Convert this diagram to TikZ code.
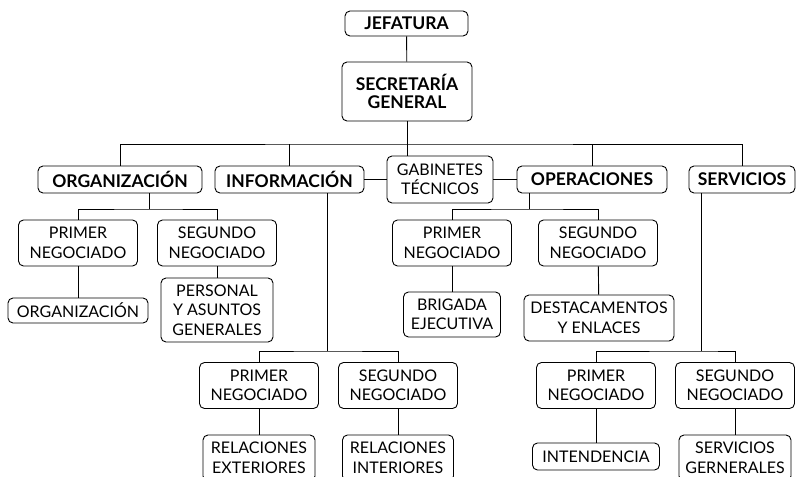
\documentclass[tikz,border=0pt]{standalone}
\usepackage{fontspec}
\setmainfont{Lato}
\begin{document}
\begin{tikzpicture}[x=1pt,y=-1pt,line width=0.9pt,
	box/.style={draw,rounded corners=5pt,align=center,inner sep=0pt,font=\fontsize{16}{19.5}\selectfont},
	head/.style={box,font=\fontsize{17.5}{18.5}\selectfont\bfseries},
	neg/.style={box,minimum width=119pt,minimum height=46pt}]
	\useasboundingbox (0,0) rectangle (796,477);
	% jefatura y secretaria
	\node[head,minimum width=123pt,minimum height=25pt] (jef) at (406.5,23.5) {JEFATURA};
	\node[head,minimum width=130pt,minimum height=59pt] (secr) at (407,91.5) {SECRETARÍA\\GENERAL};
	% departamentos
	\node[head,minimum width=164pt,minimum height=27pt] (org) at (120,179.5) {ORGANIZACIÓN};
	\node[head,minimum width=149pt,minimum height=27pt] (info) at (289.5,179.5) {INFORMACIÓN};
	\node[box,minimum width=106pt,minimum height=47pt] (gab) at (440,179.5) {GABINETES\\TÉCNICOS};
	\node[head,minimum width=150pt,minimum height=27pt] (opr) at (592,179.5) {OPERACIONES};
	\node[head,minimum width=106pt,minimum height=27pt] (serv) at (742,179.5) {SERVICIOS};
	% negociados
	\node[neg] (orgp) at (78,243) {PRIMER\\NEGOCIADO};
	\node[neg] (orgs) at (217,243) {SEGUNDO\\NEGOCIADO};
	\node[neg] (opp) at (452,243) {PRIMER\\NEGOCIADO};
	\node[neg] (ops) at (598,243) {SEGUNDO\\NEGOCIADO};
	\node[neg] (infp) at (259,385.5) {PRIMER\\NEGOCIADO};
	\node[neg] (infs) at (398,385.5) {SEGUNDO\\NEGOCIADO};
	\node[neg] (svp) at (596,385.5) {PRIMER\\NEGOCIADO};
	\node[neg] (svs) at (735,385.5) {SEGUNDO\\NEGOCIADO};
	% secciones
	\node[box,minimum width=140pt,minimum height=25pt] (orgpl) at (78,310.5) {ORGANIZACIÓN};
	\node[box,minimum width=112pt,minimum height=64pt] (orgsl) at (217,310) {PERSONAL\\Y ASUNTOS\\GENERALES};
	\node[box,minimum width=97pt,minimum height=45pt] (oppl) at (452,314.5) {BRIGADA\\EJECUTIVA};
	\node[box,minimum width=150pt,minimum height=46pt] (opsl) at (599,318) {DESTACAMENTOS\\Y ENLACES};
	\node[box,minimum width=112pt,minimum height=46pt] (infpl) at (259,458) {RELACIONES\\EXTERIORES};
	\node[box,minimum width=111pt,minimum height=46pt] (infsl) at (398,458) {RELACIONES\\INTERIORES};
	\node[box,minimum width=127pt,minimum height=27pt] (svpl) at (596,456.5) {INTENDENCIA};
	\node[box,minimum width=112pt,minimum height=46pt] (svsl) at (735,458) {SERVICIOS\\GERNERALES};
	% buses
	\coordinate (trunk) at (407,144);
	\coordinate (orgbus) at (149,209);
	\coordinate (opbus) at (529,209);
	\coordinate (infbus) at (327,351);
	\coordinate (svbus) at (701,351);
	% conexiones
	\draw (jef) -- (secr);
	\draw (secr.south) -- (secr.south |- gab.north);
	\draw (org.north) |- (trunk) -| (serv.north);
	\draw (info.north) -- (info.north |- trunk);
	\draw (opr.north) -- (opr.north |- trunk);
	\draw (info.east) -- (gab.west);
	\draw (gab.east) -- (opr.west);
	\draw (orgbus |- org.south) -- (orgbus);
	\draw (orgp.north) |- (orgbus) -| (orgs.north);
	\draw (opbus |- opr.south) -- (opbus);
	\draw (opp.north) |- (opbus) -| (ops.north);
	\draw (infbus |- info.south) -- (infbus);
	\draw (infp.north) |- (infbus) -| (infs.north);
	\draw (svbus |- serv.south) -- (svbus);
	\draw (svp.north) |- (svbus) -| (svs.north);
	\foreach \a/\b in {orgp/orgpl,orgs/orgsl,opp/oppl,ops/opsl,infp/infpl,infs/infsl,svp/svpl,svs/svsl}
		\draw (\a) -- (\b);
\end{tikzpicture}
\end{document}
